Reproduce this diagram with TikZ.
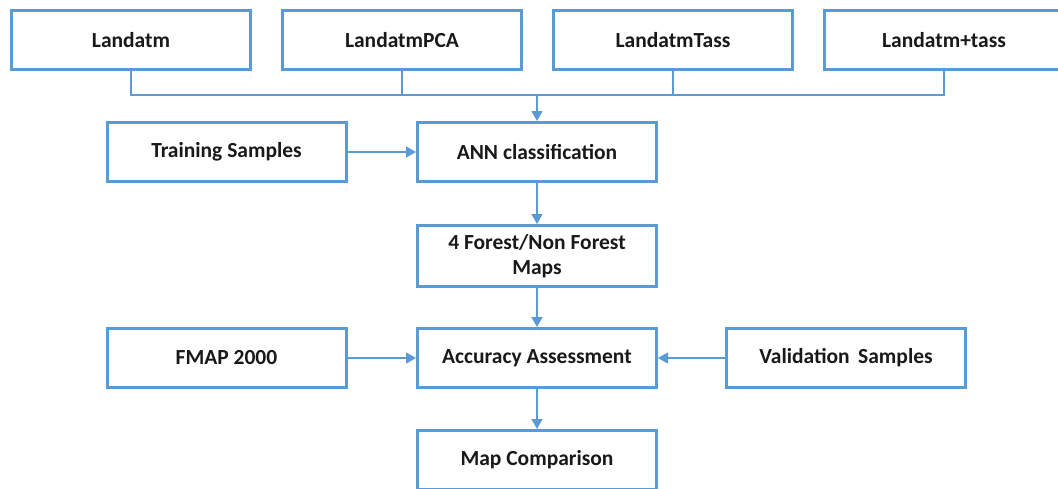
\documentclass[tikz,border=0pt]{standalone}
\usepackage{fontspec}
\setmainfont{Carlito}
\usetikzlibrary{arrows.meta}

\begin{document}
\begin{tikzpicture}[x=1pt,y=-1pt,
  stepbox/.style={draw=flowBlue,line width=3pt,fill=white,minimum width=239pt,minimum height=59pt,
    align=center,font=\fontsize{21.5}{25.5}\selectfont\bfseries,text=black!90},
  link/.style={draw=flowBlue,line width=1.4pt},
  arr/.style={link,-{Triangle[width=11pt,length=10pt]}}]
\definecolor{flowBlue}{HTML}{5B9BD5}
\useasboundingbox (0,0) rectangle (1058,488);
\clip (0,0) rectangle (1058,488);
% input data sets
\foreach \x/\n/\lab in {131/tm/Landatm,402/pca/LandatmPCA,673/tass/LandatmTass,944/tmtass/Landatm+tass} {
  \node[stepbox] (\n) at (\x,40) {\lab};
}
\coordinate (bus) at (537,95);
\foreach \n in {tm,pca,tass,tmtass} {
  \draw[link] (\n.south) |- (bus);
}
\node[stepbox] (ann) at (537,152) {ANN classification};
\node[stepbox] (train) at (226.5,152) {Training Samples};
\node[stepbox,minimum height=61pt] (maps) at (537,256) {4 Forest/Non Forest\\Maps};
\node[stepbox] (acc) at (537,358) {Accuracy Assessment};
\node[stepbox] (fmap) at (226.5,358) {FMAP 2000};
\node[stepbox] (valid) at (846,358) {Validation\, Samples};
\node[stepbox] (comp) at (537,460) {Map Comparison};
% flow
\draw[arr] (bus) -- (ann);
\draw[arr] (train) -- (ann);
\draw[arr] (ann) -- (maps);
\draw[arr] (maps) -- (acc);
\draw[arr] (fmap) -- (acc);
\draw[arr] (valid) -- (acc);
\draw[arr] (acc) -- (comp);
\end{tikzpicture}
\end{document}
